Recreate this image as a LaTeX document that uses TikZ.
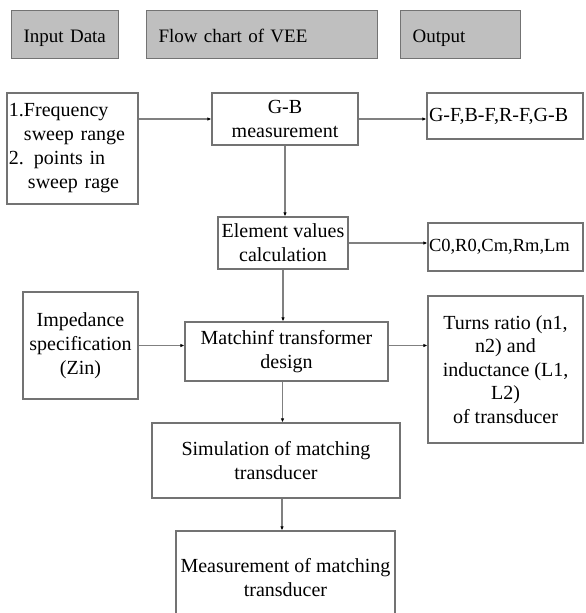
\documentclass[tikz,border=0pt]{standalone}
\usepackage{fontspec}
\setmainfont{Liberation Serif}
\usetikzlibrary{arrows.meta,calc,positioning}

\begin{document}
\begin{tikzpicture}[
    x=1pt, y=-1pt,
    hdr/.style={
      draw=black!55, line width=1.2pt,
      fill=black!25,
      minimum height=48pt,
      text height=20pt, text depth=4pt,
      align=left, inner xsep=12pt,
      font=\fontsize{19}{22}\selectfont,
      anchor=north west
    },
    blk/.style={
      draw=black!55, line width=1.2pt,
      fill=white,
      align=center, inner sep=1pt,
      font=\fontsize{20}{24}\selectfont
    },
    arr/.style={-{Latex[length=4pt,width=3.5pt,color=black]}, line width=1.2pt, draw=black!50}
  ]

  \useasboundingbox (0,0) rectangle (586,613);
  \clip (0,0) rectangle (586,613);

  % Header boxes
  \node[hdr, text width=83pt]  (hin)   at (11,10)  {Input Data};
  \node[hdr, text width=207pt] (hflow) at (146,10) {Flow chart of VEE};
  \node[hdr, text width=96pt]  (hout)  at (400,10) {Output};

  % Flow chart
  \node[blk, minimum width=131pt, minimum height=111pt, text width=127pt, align=left, inner xsep=2pt] (freq) at (72.5,148.5)
    {1.Frequency\\\hspace*{15pt}sweep range\\2. points in\\\hspace*{19pt}sweep rage};
  \node[blk, minimum width=146pt, minimum height=52pt] (gb) at (285,119) {G-B\\measurement};
  \node[blk, minimum width=156pt, minimum height=46pt, text width=152pt, align=left, inner xsep=2pt] (gf) at (505,116)
    {G-F,B-F,R-F,G-B};

  \node[blk, minimum width=130pt, minimum height=52pt] (elem) at (283,243) {Element values\\calculation};
  \node[blk, minimum width=155pt, minimum height=48pt, text width=153pt, align=left, inner xsep=1pt,
        font=\fontsize{18.5}{22}\selectfont] (c0) at (505.5,247) {C0,R0,Cm,Rm,Lm};

  \node[blk, minimum width=115pt, minimum height=107pt] (imp) at (80.5,345.5) {Impedance\\specification\\(Zin)};
  \node[blk, minimum width=203pt, minimum height=59pt] (match) at (286.5,351.5) {Matchinf transformer\\design};
  \node[blk, minimum width=155pt, minimum height=147pt, font=\fontsize{20}{23.5}\selectfont] (turns) at (505.5,369.5)
    {Turns ratio (n1,\\n2) and\\inductance (L1,\\L2)\\of transducer};

  \node[blk, minimum width=248pt, minimum height=75pt] (sim) at (276,460.5) {Simulation of matching\\transducer};
  \node[blk, minimum width=219pt, minimum height=94pt] (meas) at (285.5,578) {Measurement of matching\\transducer};

  % Connectors
  \draw[arr] (gb.west -| freq.east) -- (gb.west);
  \draw[arr] (gb.east) -- (gb.east -| gf.west);
  \draw[arr] (gb.south) -- (gb.south |- elem.north);
  \draw[arr] (elem.east) -- (elem.east -| c0.west);
  \draw[arr] (elem.south) -- (elem.south |- match.north);
  \draw[arr] (imp.east) -- (imp.east -| match.west);
  \draw[arr] (imp.east -| match.east) -- (imp.east -| turns.west);
  \draw[arr] ([xshift=-4pt]match.south) -- ([xshift=-4pt]match.south |- sim.north);
  \draw[arr] ([xshift=6pt]sim.south) -- ([xshift=6pt]sim.south |- meas.north);

\end{tikzpicture}
\end{document}
